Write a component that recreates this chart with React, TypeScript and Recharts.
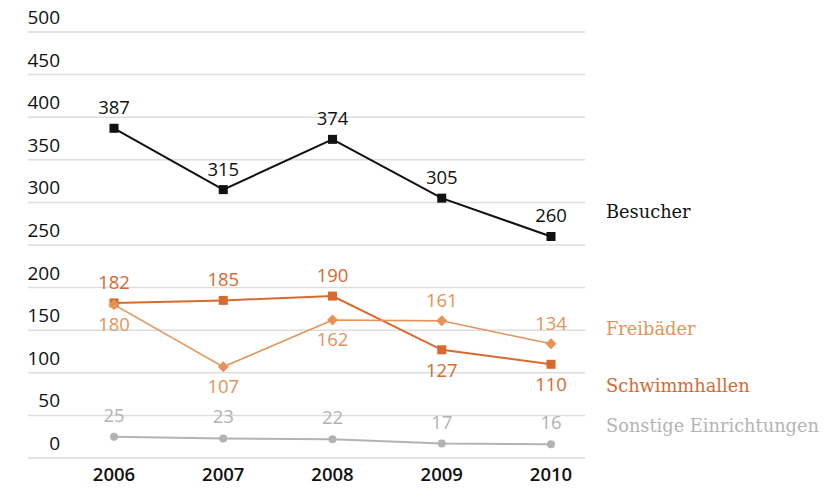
import React from 'react';
import { LineChart, Line, XAxis, YAxis, CartesianGrid, LabelList } from 'recharts';

const years = ['2006', '2007', '2008', '2009', '2010'];
const besucher = [387, 315, 374, 305, 260];
const schwimmhallen = [182, 185, 190, 127, 110];
const freibaeder = [180, 107, 162, 161, 134];
const sonstige = [25, 23, 22, 17, 16];
const yTicks = [0, 50, 100, 150, 200, 250, 300, 350, 400, 450, 500];

// label side per point: true = above the marker
const besucherAbove = [true, true, true, true, true];
const schwimmAbove = [true, true, true, false, false];
const freiAbove = [false, false, false, true, true];
const sonstigeAbove = [true, true, true, true, true];

const COLORS = {
  besucher: '#111111',
  schwimm: '#d9692f',
  frei: '#e8925a',
  sonstige: '#b3b3b3',
};

const data = years.map((year, i) => ({
  year,
  besucher: besucher[i],
  schwimmhallen: schwimmhallen[i],
  freibaeder: freibaeder[i],
  sonstige: sonstige[i],
}));

const SANS = '"Open Sans", "Noto Sans", sans-serif';
const SERIF = '"DejaVu Serif", serif';

const squareDot = (color: string, size: number) => (props: any) => {
  const { cx, cy, index } = props;
  return <rect key={`sq-${color}-${index}`} x={cx - size / 2} y={cy - size / 2} width={size} height={size} fill={color} />;
};

const diamondDot = (color: string, r: number) => (props: any) => {
  const { cx, cy, index } = props;
  return (
    <polygon
      key={`dm-${index}`}
      points={`${cx},${cy - r} ${cx + r},${cy} ${cx},${cy + r} ${cx - r},${cy}`}
      fill={color}
    />
  );
};

const circleDot = (color: string, r: number) => (props: any) => {
  const { cx, cy, index } = props;
  return <circle key={`ci-${index}`} cx={cx} cy={cy} r={r} fill={color} />;
};

const valueLabel = (color: string, above: boolean[], up = 14, down = 27) => (props: any) => {
  const { x, y, value, index } = props;
  const isAbove = above[index];
  return (
    <text
      x={x}
      y={isAbove ? y - up : y + down}
      textAnchor="middle"
      fill={color}
      fontSize={18.5}
      fontFamily={SANS}
    >
      {value}
    </text>
  );
};

const YTick = (props: any) => {
  const { y, payload } = props;
  return (
    <text x={60} y={y - 8} textAnchor="end" fill="#111" fontSize={19} fontFamily={SANS} fontWeight={500}>
      {payload.value}
    </text>
  );
};

const XTick = (props: any) => {
  const { x, payload } = props;
  return (
    <text x={x} y={481} textAnchor="middle" fill="#111" fontSize={18.5} fontFamily={SANS} fontWeight={600}>
      {payload.value}
    </text>
  );
};

const legendItems = [
  { name: 'Besucher', color: COLORS.besucher, top: 201 },
  { name: 'Freibäder', color: COLORS.frei, top: 318 },
  { name: 'Schwimmhallen', color: COLORS.schwimm, top: 375 },
  { name: 'Sonstige Einrichtungen', color: COLORS.sonstige, top: 415 },
];

export default function App() {
  return (
    <div style={{ position: 'absolute', left: 0, top: 0, width: 824, height: 491, background: '#fff' }}>
      <LineChart width={824} height={491} data={data} margin={{ top: 32, right: 239, bottom: 0, left: 0 }}>
        <CartesianGrid horizontal vertical={false} stroke="#dddddd" strokeWidth={1.5} />
        <XAxis
          dataKey="year"
          axisLine={false}
          tickLine={false}
          padding={{ left: 86, right: 34 }}
          tick={<XTick />}
          height={33}
          interval={0}
        />
        <YAxis
          type="number"
          domain={[0, 500]}
          ticks={yTicks}
          axisLine={false}
          tickLine={false}
          width={28}
          tick={<YTick />}
          interval={0}
        />
        <Line
          dataKey="sonstige"
          stroke={COLORS.sonstige}
          strokeWidth={2}
          dot={circleDot(COLORS.sonstige, 4)}
          isAnimationActive={false}
        >
          <LabelList dataKey="sonstige" content={valueLabel(COLORS.sonstige, sonstigeAbove, 15, 27)} />
        </Line>
        <Line
          dataKey="besucher"
          stroke={COLORS.besucher}
          strokeWidth={2}
          dot={squareDot(COLORS.besucher, 9)}
          isAnimationActive={false}
        >
          <LabelList dataKey="besucher" content={valueLabel(COLORS.besucher, besucherAbove)} />
        </Line>
        <Line
          dataKey="schwimmhallen"
          stroke={COLORS.schwimm}
          strokeWidth={2}
          dot={squareDot(COLORS.schwimm, 9)}
          isAnimationActive={false}
        >
          <LabelList dataKey="schwimmhallen" content={valueLabel(COLORS.schwimm, schwimmAbove)} />
        </Line>
        <Line
          dataKey="freibaeder"
          stroke={COLORS.frei}
          strokeWidth={1.6}
          dot={diamondDot(COLORS.frei, 5.5)}
          isAnimationActive={false}
        >
          <LabelList dataKey="freibaeder" content={valueLabel(COLORS.frei, freiAbove, 14, 26)} />
        </Line>
      </LineChart>
      {legendItems.map((item) => (
        <div
          key={item.name}
          style={{
            position: 'absolute',
            left: 606,
            top: item.top,
            color: item.color,
            fontFamily: SERIF,
            fontSize: 17.8,
            lineHeight: '22px',
            whiteSpace: 'nowrap',
          }}
        >
          {item.name}
        </div>
      ))}
    </div>
  );
}
